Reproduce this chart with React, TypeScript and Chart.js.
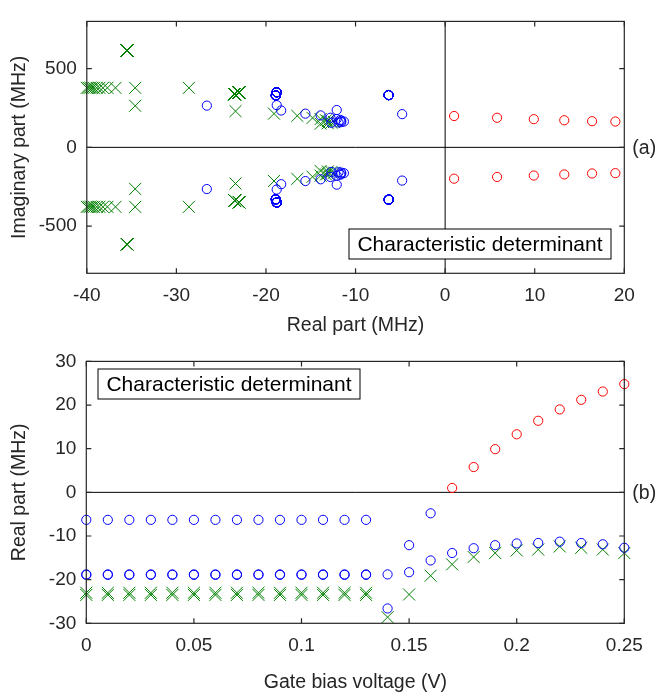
import React, { useEffect, useRef } from "react";
import { Chart, registerables } from "chart.js";

Chart.register(...registerables);

// Gate bias sweep (V)
const voltage = [
  0, 0.01, 0.02, 0.03, 0.04, 0.05, 0.06, 0.07, 0.08, 0.09, 0.1, 0.11, 0.12,
  0.13, 0.14, 0.15, 0.16, 0.17, 0.18, 0.19, 0.2, 0.21, 0.22, 0.23, 0.24, 0.25,
];

// Roots of the characteristic determinant, one entry per bias point (MHz).
// Real parts / positive imaginary parts; conjugates are mirrored.
const blueARe = [
  -6.3, -6.3, -6.3, -6.3, -6.3, -6.3, -6.3, -6.3, -6.3, -6.3, -6.3, -6.3, -6.3,
  -6.3, -26.6, -12.1, -4.8, null, null, null, null, null, null, null, null, null,
];
const blueAIm = [
  332, 332, 332, 332, 332, 332, 332, 332, 332, 332, 332, 332, 332, 332, 265, 237,
  211, null, null, null, null, null, null, null, null, null,
];
const blueBRe = [
  -18.8, -18.8, -18.8, -18.8, -18.8, -18.8, -18.8, -18.8, -18.8, -18.8, -18.8,
  -18.8, -18.8, -18.8, -18.8, -18.3, -15.6, -13.9, -12.8, -12.1, -11.7, -11.6,
  -11.3, -11.6, -11.9, -12.7,
];
const blueBIm = [
  350, 350, 350, 350, 350, 350, 350, 350, 350, 350, 350, 350, 350, 350, 268, 234,
  214, 203, 188, 180, 174, 168, 164, 160, 158, 156,
];
const blueCRe = [
  -18.9, -18.9, -18.9, -18.9, -18.9, -18.9, -18.9, -18.9, -18.9, -18.9, -18.9,
  -18.9, -18.9, -18.9, null, null, null, null, null, null, null, null, null, null,
  null, null,
];
const blueCIm = [
  330, 330, 330, 330, 330, 330, 330, 330, 330, 330, 330, 330, 330, 330, null, null,
  null, null, null, null, null, null, null, null, null, null,
];
const greenARe = [
  -23.0, -23.0, -23.0, -23.0, -23.0, -23.0, -23.0, -23.0, -23.0, -23.0, -23.0,
  -23.0, -23.0, -23.0, -28.6, -23.4, -19.1, -16.5, -14.8, -13.9, -13.3, -13.1,
  -12.4, -12.7, -13.1, -13.9,
];
const greenAIm = [
  348, 348, 348, 348, 348, 348, 348, 348, 348, 348, 348, 348, 348, 348, 378, 230,
  214, 200, 187, 180, 172, 166, 161, 157, 153, 150,
];
const greenBRe = [
  -23.5, -23.5, -23.5, -23.5, -23.5, -23.5, -23.5, -23.5, -23.5, -23.5, -23.5,
  -23.5, -23.5, -23.5, null, null, null, null, null, null, null, null, null, null,
  null, null,
];
const greenBIm = [
  338, 338, 338, 338, 338, 338, 338, 338, 338, 338, 338, 338, 338, 338, null, null,
  null, null, null, null, null, null, null, null, null, null,
];
const greenCRe = [
  -35.5, -35.5, -35.5, -35.5, -35.5, -35.5, -35.5, -35.5, -35.5, -35.5, -35.5,
  -35.5, -35.5, -35.5, -34.6, -34.6, -36.8, -37.7, -38.2, -38.6, -38.9, -39.2,
  -39.4, -39.6, -39.8, -40.0,
];
const greenCIm = [
  615, 615, 615, 615, 615, 615, 615, 615, 615, 615, 615, 615, 615, 615, 264, 378,
  378, 378, 378, 378, 378, 378, 378, 378, 378, 378,
];
const redRe = [
  null, null, null, null, null, null, null, null, null, null, null, null, null,
  null, null, null, null, 1.0, 5.8, 9.9, 13.3, 16.4, 19.0, 21.2, 23.1, 24.8,
];
const redIm = [
  null, null, null, null, null, null, null, null, null, null, null, null, null,
  null, null, null, null, 199, 188, 179, 172, 166, 164, 161, 159, 157,
];

// Axis ticks
const topXTicks = [-40, -30, -20, -10, 0, 10, 20];
const topYTicks = [-500, 0, 500];
const botXTicks = [0, 0.05, 0.1, 0.15, 0.2, 0.25];
const botXTickLabels = ["0", "0.05", "0.1", "0.15", "0.2", "0.25"];
const botYTicks = [-30, -20, -10, 0, 10, 20, 30];

const BLUE = "#0000ff";
const GREEN = "#008000";
const RED = "#ff0000";
const INK = "#262626";
const FONT = "'Liberation Sans', Arial, sans-serif";

const W = 657;
const TOP_H = 340;
const BOT_H = 356;

type Pt = { x: number; y: number };

function conjugatePairs(re: (number | null)[], im: (number | null)[], xMin: number, xMax: number): Pt[] {
  const pts: Pt[] = [];
  re.forEach((r, i) => {
    const m = im[i];
    if (r == null || m == null || r < xMin || r > xMax) return;
    pts.push({ x: r, y: m }, { x: r, y: -m });
  });
  return pts;
}

function realVsVoltage(re: (number | null)[], yMin: number, yMax: number): Pt[] {
  const pts: Pt[] = [];
  re.forEach((r, i) => {
    if (r == null || r < yMin || r > yMax) return;
    pts.push({ x: voltage[i], y: r });
  });
  return pts;
}

function circles(data: Pt[], color: string) {
  return {
    data,
    pointStyle: "circle",
    pointRadius: 4.6,
    borderWidth: 1,
    borderColor: color,
    backgroundColor: "rgba(0,0,0,0)",
    showLine: false,
    clip: false as const,
  };
}

function crosses(data: Pt[], color: string) {
  return {
    data,
    pointStyle: "crossRot",
    pointRadius: 8.5,
    borderWidth: 1,
    borderColor: color,
    backgroundColor: color,
    showLine: false,
    clip: false as const,
  };
}

// Frame, inward ticks, zero lines, boxed caption and panel tag
const framePlugin = {
  id: "frame",
  beforeDatasetsDraw(chart: any, _a: any, opts: any) {
    const { ctx, chartArea: a, scales } = chart;
    const x = scales.x;
    const y = scales.y;
    ctx.save();
    ctx.strokeStyle = "#000";
    ctx.lineWidth = 1;
    const y0 = y.getPixelForValue(0);
    ctx.beginPath();
    ctx.moveTo(a.left, y0);
    ctx.lineTo(a.right, y0);
    ctx.stroke();
    if (opts.verticalZero) {
      const x0 = x.getPixelForValue(0);
      ctx.beginPath();
      ctx.moveTo(x0, a.top);
      ctx.lineTo(x0, a.bottom);
      ctx.stroke();
    }
    ctx.restore();
  },
  afterDatasetsDraw(chart: any, _a: any, opts: any) {
    const { ctx, chartArea: a, scales } = chart;
    const x = scales.x;
    const y = scales.y;
    ctx.save();
    ctx.strokeStyle = INK;
    ctx.lineWidth = 1.2;
    ctx.strokeRect(a.left, a.top, a.right - a.left, a.bottom - a.top);
    const tl = 5;
    ctx.beginPath();
    for (const t of x.ticks) {
      const px = x.getPixelForValue(t.value);
      ctx.moveTo(px, a.bottom);
      ctx.lineTo(px, a.bottom - tl);
      ctx.moveTo(px, a.top);
      ctx.lineTo(px, a.top + tl);
    }
    for (const t of y.ticks) {
      const py = y.getPixelForValue(t.value);
      ctx.moveTo(a.left, py);
      ctx.lineTo(a.left + tl, py);
      ctx.moveTo(a.right, py);
      ctx.lineTo(a.right - tl, py);
    }
    ctx.stroke();

    // caption box
    const b = opts.box;
    ctx.fillStyle = "#fff";
    ctx.fillRect(b.left, b.top, b.width, b.height);
    ctx.strokeStyle = "#000";
    ctx.lineWidth = 1;
    ctx.strokeRect(b.left, b.top, b.width, b.height);
    ctx.fillStyle = "#000";
    ctx.font = `21px ${FONT}`;
    ctx.textAlign = "center";
    ctx.textBaseline = "middle";
    ctx.fillText("Characteristic determinant", b.left + b.width / 2, b.top + b.height / 2 + 1);

    // panel tag
    ctx.fillStyle = INK;
    ctx.font = `19.5px ${FONT}`;
    ctx.textAlign = "left";
    ctx.fillText(opts.tag, a.right + 8, y.getPixelForValue(0) + 1);
    ctx.restore();
  },
};

const tickFont = { family: FONT, size: 19 };
const titleFont = { family: FONT, size: 19.5 };

function makeTop(canvas: HTMLCanvasElement) {
  const xMin = -40;
  const xMax = 20;
  const blue = [
    ...conjugatePairs(blueARe, blueAIm, xMin, xMax),
    ...conjugatePairs(blueBRe, blueBIm, xMin, xMax),
    ...conjugatePairs(blueCRe, blueCIm, xMin, xMax),
  ];
  const green = [
    ...conjugatePairs(greenARe, greenAIm, xMin, xMax),
    ...conjugatePairs(greenBRe, greenBIm, xMin, xMax),
    ...conjugatePairs(greenCRe, greenCIm, xMin, xMax),
  ];
  const red = conjugatePairs(redRe, redIm, xMin, xMax);
  return new Chart(canvas, {
    type: "scatter",
    data: { datasets: [circles(blue, BLUE), crosses(green, GREEN), circles(red, RED)] as any },
    options: {
      animation: false,
      responsive: false,
      maintainAspectRatio: false,
      events: [],
      layout: { padding: { left: 0, top: 3.5, right: W - 624.3, bottom: 0 } },
      plugins: {
        legend: { display: false },
        tooltip: { enabled: false },
        frame: {
          verticalZero: true,
          tag: "(a)",
          box: { left: 349, top: 229, width: 262, height: 30 },
        },
      } as any,
      scales: {
        x: {
          type: "linear",
          min: xMin,
          max: xMax,
          afterBuildTicks: (s: any) => {
            s.ticks = topXTicks.map((v) => ({ value: v }));
          },
          afterFit: (s: any) => {
            s.height = TOP_H - 273.3;
          },
          grid: { display: false, drawTicks: false },
          border: { display: false },
          ticks: {
            autoSkip: false,
            maxRotation: 0,
            padding: 11,
            color: INK,
            font: tickFont,
            callback: (v: any) => String(v),
          },
          title: {
            display: true,
            text: "Real part (MHz)",
            color: INK,
            font: titleFont,
            padding: { top: 0, bottom: 3 },
          },
        },
        y: {
          type: "linear",
          min: -800,
          max: 800,
          afterBuildTicks: (s: any) => {
            s.ticks = topYTicks.map((v) => ({ value: v }));
          },
          afterFit: (s: any) => {
            s.width = 86.8;
          },
          grid: { display: false, drawTicks: false },
          border: { display: false },
          ticks: {
            autoSkip: false,
            padding: 10,
            color: INK,
            font: tickFont,
            callback: (v: any) => String(v),
          },
          title: {
            display: true,
            text: "Imaginary part (MHz)",
            color: INK,
            font: titleFont,
            padding: { top: 8, bottom: 0 },
          },
        },
      },
    },
    plugins: [framePlugin as any],
  });
}

function makeBottom(canvas: HTMLCanvasElement) {
  const yMin = -30;
  const yMax = 30;
  const blue = [
    ...realVsVoltage(blueARe, yMin, yMax),
    ...realVsVoltage(blueBRe, yMin, yMax),
    ...realVsVoltage(blueCRe, yMin, yMax),
  ];
  const green = [
    ...realVsVoltage(greenARe, yMin, yMax),
    ...realVsVoltage(greenBRe, yMin, yMax),
    ...realVsVoltage(greenCRe, yMin, yMax),
  ];
  const red = realVsVoltage(redRe, yMin, yMax);
  const areaTop = 353.3 - TOP_H;
  const areaBottom = 623.3 - TOP_H;
  return new Chart(canvas, {
    type: "scatter",
    data: { datasets: [circles(blue, BLUE), crosses(green, GREEN), circles(red, RED)] as any },
    options: {
      animation: false,
      responsive: false,
      maintainAspectRatio: false,
      events: [],
      layout: { padding: { left: 0, top: areaTop, right: W - 624.3, bottom: 0 } },
      plugins: {
        legend: { display: false },
        tooltip: { enabled: false },
        frame: {
          verticalZero: false,
          tag: "(b)",
          box: { left: 98, top: 369 - TOP_H, width: 262, height: 30 },
        },
      } as any,
      scales: {
        x: {
          type: "linear",
          min: 0,
          max: 0.25,
          afterBuildTicks: (s: any) => {
            s.ticks = botXTicks.map((v) => ({ value: v }));
          },
          afterFit: (s: any) => {
            s.height = BOT_H - areaBottom;
          },
          grid: { display: false, drawTicks: false },
          border: { display: false },
          ticks: {
            autoSkip: false,
            maxRotation: 0,
            padding: 11,
            color: INK,
            font: tickFont,
            callback: (_v: any, i: number) => botXTickLabels[i],
          },
          title: {
            display: true,
            text: "Gate bias voltage (V)",
            color: INK,
            font: titleFont,
            padding: { top: 0, bottom: 2 },
          },
        },
        y: {
          type: "linear",
          min: yMin,
          max: yMax,
          afterBuildTicks: (s: any) => {
            s.ticks = botYTicks.map((v) => ({ value: v }));
          },
          afterFit: (s: any) => {
            s.width = 86.3;
          },
          grid: { display: false, drawTicks: false },
          border: { display: false },
          ticks: {
            autoSkip: false,
            padding: 10,
            color: INK,
            font: tickFont,
            callback: (v: any) => String(v),
          },
          title: {
            display: true,
            text: "Real part (MHz)",
            color: INK,
            font: titleFont,
            padding: { top: 8, bottom: 0 },
          },
        },
      },
    },
    plugins: [framePlugin as any],
  });
}

export default function App() {
  const topRef = useRef<HTMLCanvasElement>(null);
  const botRef = useRef<HTMLCanvasElement>(null);

  useEffect(() => {
    const top = makeTop(topRef.current!);
    const bot = makeBottom(botRef.current!);
    return () => {
      top.destroy();
      bot.destroy();
    };
  }, []);

  return (
    <div
      style={{
        position: "absolute",
        left: 0,
        top: 0,
        width: W,
        height: TOP_H + BOT_H,
        background: "#fff",
      }}
    >
      <canvas
        ref={topRef}
        width={W}
        height={TOP_H}
        style={{ position: "absolute", left: 0, top: 0, width: W, height: TOP_H }}
      />
      <canvas
        ref={botRef}
        width={W}
        height={BOT_H}
        style={{ position: "absolute", left: 0, top: TOP_H, width: W, height: BOT_H }}
      />
    </div>
  );
}
